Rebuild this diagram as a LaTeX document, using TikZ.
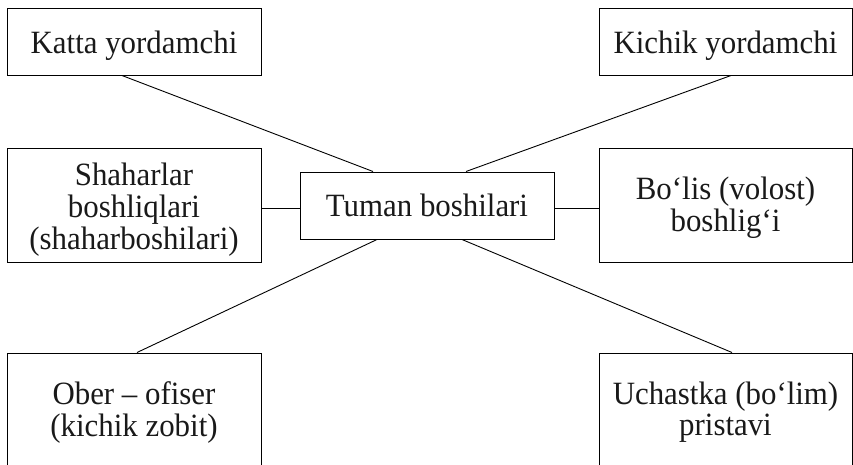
\documentclass[tikz,border=0pt]{standalone}
\usepackage{fontspec}
\setmainfont[FakeStretch=0.95]{Liberation Serif}
\newcommand{\lines}[1]{\begin{tabular}[t]{@{}c@{}}#1\end{tabular}}
\begin{document}
\begin{tikzpicture}[x=1pt,y=-1pt,
  box/.style={draw, line width=1pt, inner sep=0pt},
  txt/.style={anchor=base, inner sep=0pt, text=black!90,
    font=\fontsize{32.5}{31.7}\selectfont},
  link/.style={line width=0.9pt}]
\useasboundingbox (0,0) rectangle (853,464);
\clip (0,0) rectangle (853,464);
% boxes
\node[box, minimum width=254pt, minimum height=67pt] (katta) at (134,41.5) {};
\node[box, minimum width=253pt, minimum height=67pt] (kichik) at (725.5,41.5) {};
\node[box, minimum width=254pt, minimum height=114pt] (shahar) at (134,205) {};
\node[box, minimum width=254pt, minimum height=67pt] (tuman) at (427,205.5) {};
\node[box, minimum width=253pt, minimum height=114pt] (bolis) at (725.5,205) {};
\node[box, minimum width=254pt, minimum height=118pt] (ober) at (134,412) {};
\node[box, minimum width=253pt, minimum height=118pt] (uch) at (725.5,412) {};
% texts
\node[txt] (kattat) at (134,53.3) {Katta yordamchi};
\node[txt] (kichikt) at (725.5,53.3) {Kichik yordamchi};
\node[txt] (tumant) at (427,216.7) {Tuman boshilari};
\node[txt] (shahart) at (134,185) {\lines{Shaharlar\\boshliqlari\\(shaharboshilari)}};
\node[txt] (bolist) at (725.5,199) {\lines{Bo‘lis (volost)\\boshlig‘i}};
\node[txt] (obert) at (134,404) {\lines{Ober – ofiser\\(kichik zobit)}};
\node[txt] (ucht) at (725.5,404) {\lines{Uchastka (bo‘lim)\\pristavi}};
% connectors
\draw[link] ([xshift=-12pt]katta.south) -- ([xshift=-54pt]tuman.north);
\draw[link] ([xshift=5.5pt]kichik.south) -- ([xshift=39pt]tuman.north);
\draw[link] ([yshift=-3.5pt]shahar.east) -- ([yshift=-3pt]tuman.west);
\draw[link] ([yshift=-3pt]tuman.east) -- ([yshift=-3.5pt]bolis.east -| bolis.west);
\draw[link] ([xshift=-50pt]tuman.south) -- ([xshift=3pt]ober.north);
\draw[link] ([xshift=35pt]tuman.south) -- ([xshift=6.5pt]uch.north);
\end{tikzpicture}
\end{document}
